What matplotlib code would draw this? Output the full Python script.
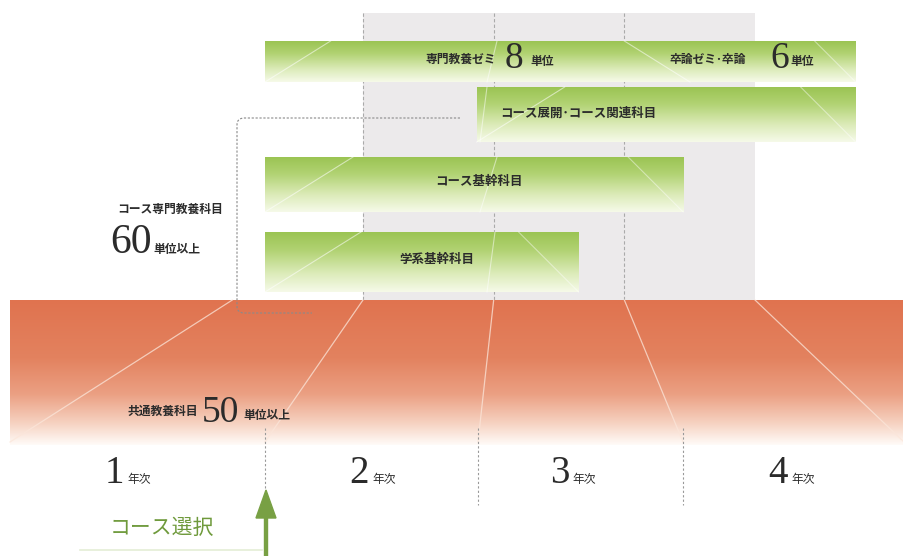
import numpy as np
import matplotlib
matplotlib.use('Agg')
import matplotlib.pyplot as plt
from matplotlib.colors import LinearSegmentedColormap
from matplotlib.path import Path
from matplotlib.patches import PathPatch, Rectangle

plt.rcParams['font.family'] = ['Noto Sans CJK JP', 'DejaVu Sans']

# ---- data ----
years = ['1', '2', '3', '4']
year_suffix = '年次'

block_labels = ['専門教養ゼミ', '卒論ゼミ･卒論', 'コース展開･コース関連科目', 'コース基幹科目', '学系基幹科目']
block_start = [1.25, 4.0, 2.87, 1.25, 1.25]   # in years
block_end = [4.0, 5.77, 5.77, 4.45, 3.65]
block_row = [0, 0, 1, 2, 3]
block_credits = ['8', '6', '', '', '']
credit_unit = '単位'

group_labels = ['コース専門教養科目', '共通教養科目']
group_credits = ['60', '50']
group_unit = '単位以上'

course_choice = 'コース選択'

# ---- layout (pixels) ----
W, H = 904, 556
row_top = [41, 87, 157, 232]
row_bot = [82, 142, 212, 292]
grid_top, grid_bot = 13, 300
band_top, band_bot = 300, 445
px_per_year = 130.67
year_x0 = 363          # pixel of year 2 boundary
bottom_edges = [265, 478, 683]
year_label_x = [124, 369, 569, 788]

serif = 'Liberation Serif'
dark = '#2b2b2b'
wt = 'bold'

fig = plt.figure(figsize=(W / 100, H / 100), dpi=100, facecolor='white')

# axes in year units (bottom layer): grey area + course blocks
gx = fig.add_axes([0, 0, 1, 1])
gx.set_zorder(0)
left_year = 2 - year_x0 / px_per_year

# pixel canvas on top: band, texts, annotations
ax = fig.add_axes([0, 0, 1, 1])
ax.set_zorder(1)
ax.patch.set_alpha(0)


def vgrad(axis, x0, x1, y0, y1, cmap, z):
    g = np.linspace(0, 1, 256).reshape(-1, 1)
    axis.imshow(g, extent=(x0, x1, y1, y0), aspect='auto', cmap=cmap,
                origin='upper', zorder=z, interpolation='bilinear')


orange = LinearSegmentedColormap.from_list('o', [
    (0.0, '#E0734F'), (0.4, '#E3825F'), (0.65, '#EBA083'),
    (0.85, '#F6D2C1'), (1.0, '#FFFBF8')])
green = LinearSegmentedColormap.from_list('g', [
    (0.0, '#9BC453'), (0.3, '#B1D272'), (0.7, '#DDECBB'), (1.0, '#F6FAE9')])

# grey years 2-4 area
gx.add_patch(Rectangle((2, grid_top), len(years) - 1, grid_bot - grid_top,
                       facecolor='#ECEAEB', edgecolor='none', zorder=0))
for yv in range(2, len(years) + 1):
    gx.plot([yv, yv], [grid_top, grid_bot], color='#AAAAAA', lw=0.8,
            ls=(0, (3, 2)), zorder=1)

# course blocks
for i, (s, e, r) in enumerate(zip(block_start, block_end, block_row)):
    y0, y1 = row_top[r], row_bot[r]
    vgrad(gx, s, e, y0, y1, green, 2)
    h = y1 - y0
    if i != 1:
        gx.plot([s, s + 1.6 * h / px_per_year], [y1, y0], color='white', lw=0.8, alpha=0.55, zorder=3)
    else:
        gx.plot([s, s + 1.6 * h / px_per_year], [y0, y1], color='white', lw=0.8, alpha=0.55, zorder=3)
    if i != 0:
        gx.plot([e - 1.0 * h / px_per_year, e], [y0, y1], color='white', lw=0.8, alpha=0.45, zorder=3)
gx.set_xlim(left_year, left_year + W / px_per_year)
gx.set_ylim(H, 0)
gx.axis('off')

# orange band (common education)
vgrad(ax, 10, W, band_top, band_bot, orange, 1)

# perspective lines in the band
top_pts = [year_x0 - px_per_year + px_per_year * i for i in range(5)]
bot_pts = [10] + bottom_edges + [W]
for tx, bx in zip(top_pts, bot_pts):
    ax.plot([tx, bx], [band_top, band_bot - 3], color='#FBE6DA', lw=0.9, alpha=0.75, zorder=2)

# bottom dashed year dividers
for bx in bottom_edges:
    ax.plot([bx, bx], [428, 505 if bx != bottom_edges[0] else 492],
            color='#999999', lw=0.8, ls=(0, (2, 2)), zorder=3)

# faint crossing lines in the bars
for r, (xa, xb) in enumerate([(497, 487), (487, 480), (497, 480), (495, 487)]):
    ax.plot([xa, xb], [row_top[r], row_bot[r]], color='white', lw=0.8, alpha=0.5, zorder=4)

# block texts
ax.text(496, 59, block_labels[0], ha='right', va='center', fontsize=8.5, weight=wt, color=dark, zorder=6)
ax.text(505, 68, block_credits[0], ha='left', va='baseline', fontsize=27, family=serif, color=dark, zorder=6)
ax.text(530, 61, credit_unit, ha='left', va='center', fontsize=8.5, weight=wt, color=dark, zorder=6)
ax.text(746, 59, block_labels[1], ha='right', va='center', fontsize=8.5, weight=wt, color=dark, zorder=6)
ax.text(770, 68, block_credits[1], ha='left', va='baseline', fontsize=27, family=serif, color=dark, zorder=6)
ax.text(790, 61, credit_unit, ha='left', va='center', fontsize=8.5, weight=wt, color=dark, zorder=6)
ax.text(500, 113, block_labels[2], ha='left', va='center', fontsize=9, weight=wt, color=dark, zorder=6)
ax.text(479, 182, block_labels[3], ha='center', va='center', fontsize=9, weight=wt, color=dark, zorder=6)
ax.text(437, 260, block_labels[4], ha='center', va='center', fontsize=9, weight=wt, color=dark, zorder=6)

# bracket for the course group
bx0, by0, by1, r = 237, 118, 313, 7
verts = [(460, by0), (bx0 + r, by0), (bx0, by0), (bx0, by0 + r), (bx0, by1 - r),
         (bx0, by1), (bx0 + r, by1), (312, by1)]
codes = [Path.MOVETO, Path.LINETO, Path.CURVE3, Path.CURVE3, Path.LINETO,
         Path.CURVE3, Path.CURVE3, Path.LINETO]
ax.add_patch(PathPatch(Path(verts, codes), facecolor='none', edgecolor='#8A8A8A',
                       lw=0.8, ls=(0, (2, 1.5)), zorder=5))

# group labels
ax.text(117, 209, group_labels[0], ha='left', va='center', fontsize=8.5, weight=wt, color=dark, zorder=6)
ax.text(110, 253, group_credits[0], ha='left', va='baseline', fontsize=30, family=serif, color=dark, zorder=6)
ax.text(153, 249, group_unit, ha='left', va='center', fontsize=8.5, weight=wt, color=dark, zorder=6)

ax.text(198, 411, group_labels[1], ha='right', va='center', fontsize=8.5, weight=wt, color=dark, zorder=6)
ax.text(202, 422, group_credits[1], ha='left', va='baseline', fontsize=27, family=serif, color=dark, zorder=6)
ax.text(243, 416, group_unit, ha='left', va='center', fontsize=8.5, weight=wt, color=dark, zorder=6)

# year labels
for yl, x in zip(years, year_label_x):
    ax.text(x, 483, yl, ha='right', va='baseline', fontsize=28, family=serif, color=dark, zorder=6)
    ax.text(x + 3, 479, year_suffix, ha='left', va='center', fontsize=8.5, color=dark, zorder=6)

# course selection
ax.text(110, 528, course_choice, ha='left', va='center', fontsize=15, color='#6F9A3C', zorder=6)
ax.plot([80, 262], [550, 550], color='#E4EDD6', lw=1.2, zorder=5)
ax.arrow(266, 556, 0, -66, width=3, head_width=20, head_length=28,
         length_includes_head=True, color='#78A044', zorder=6)

ax.set_xlim(0, W)
ax.set_ylim(H, 0)
ax.axis('off')

fig.savefig('out.png', dpi=100, facecolor='white')
